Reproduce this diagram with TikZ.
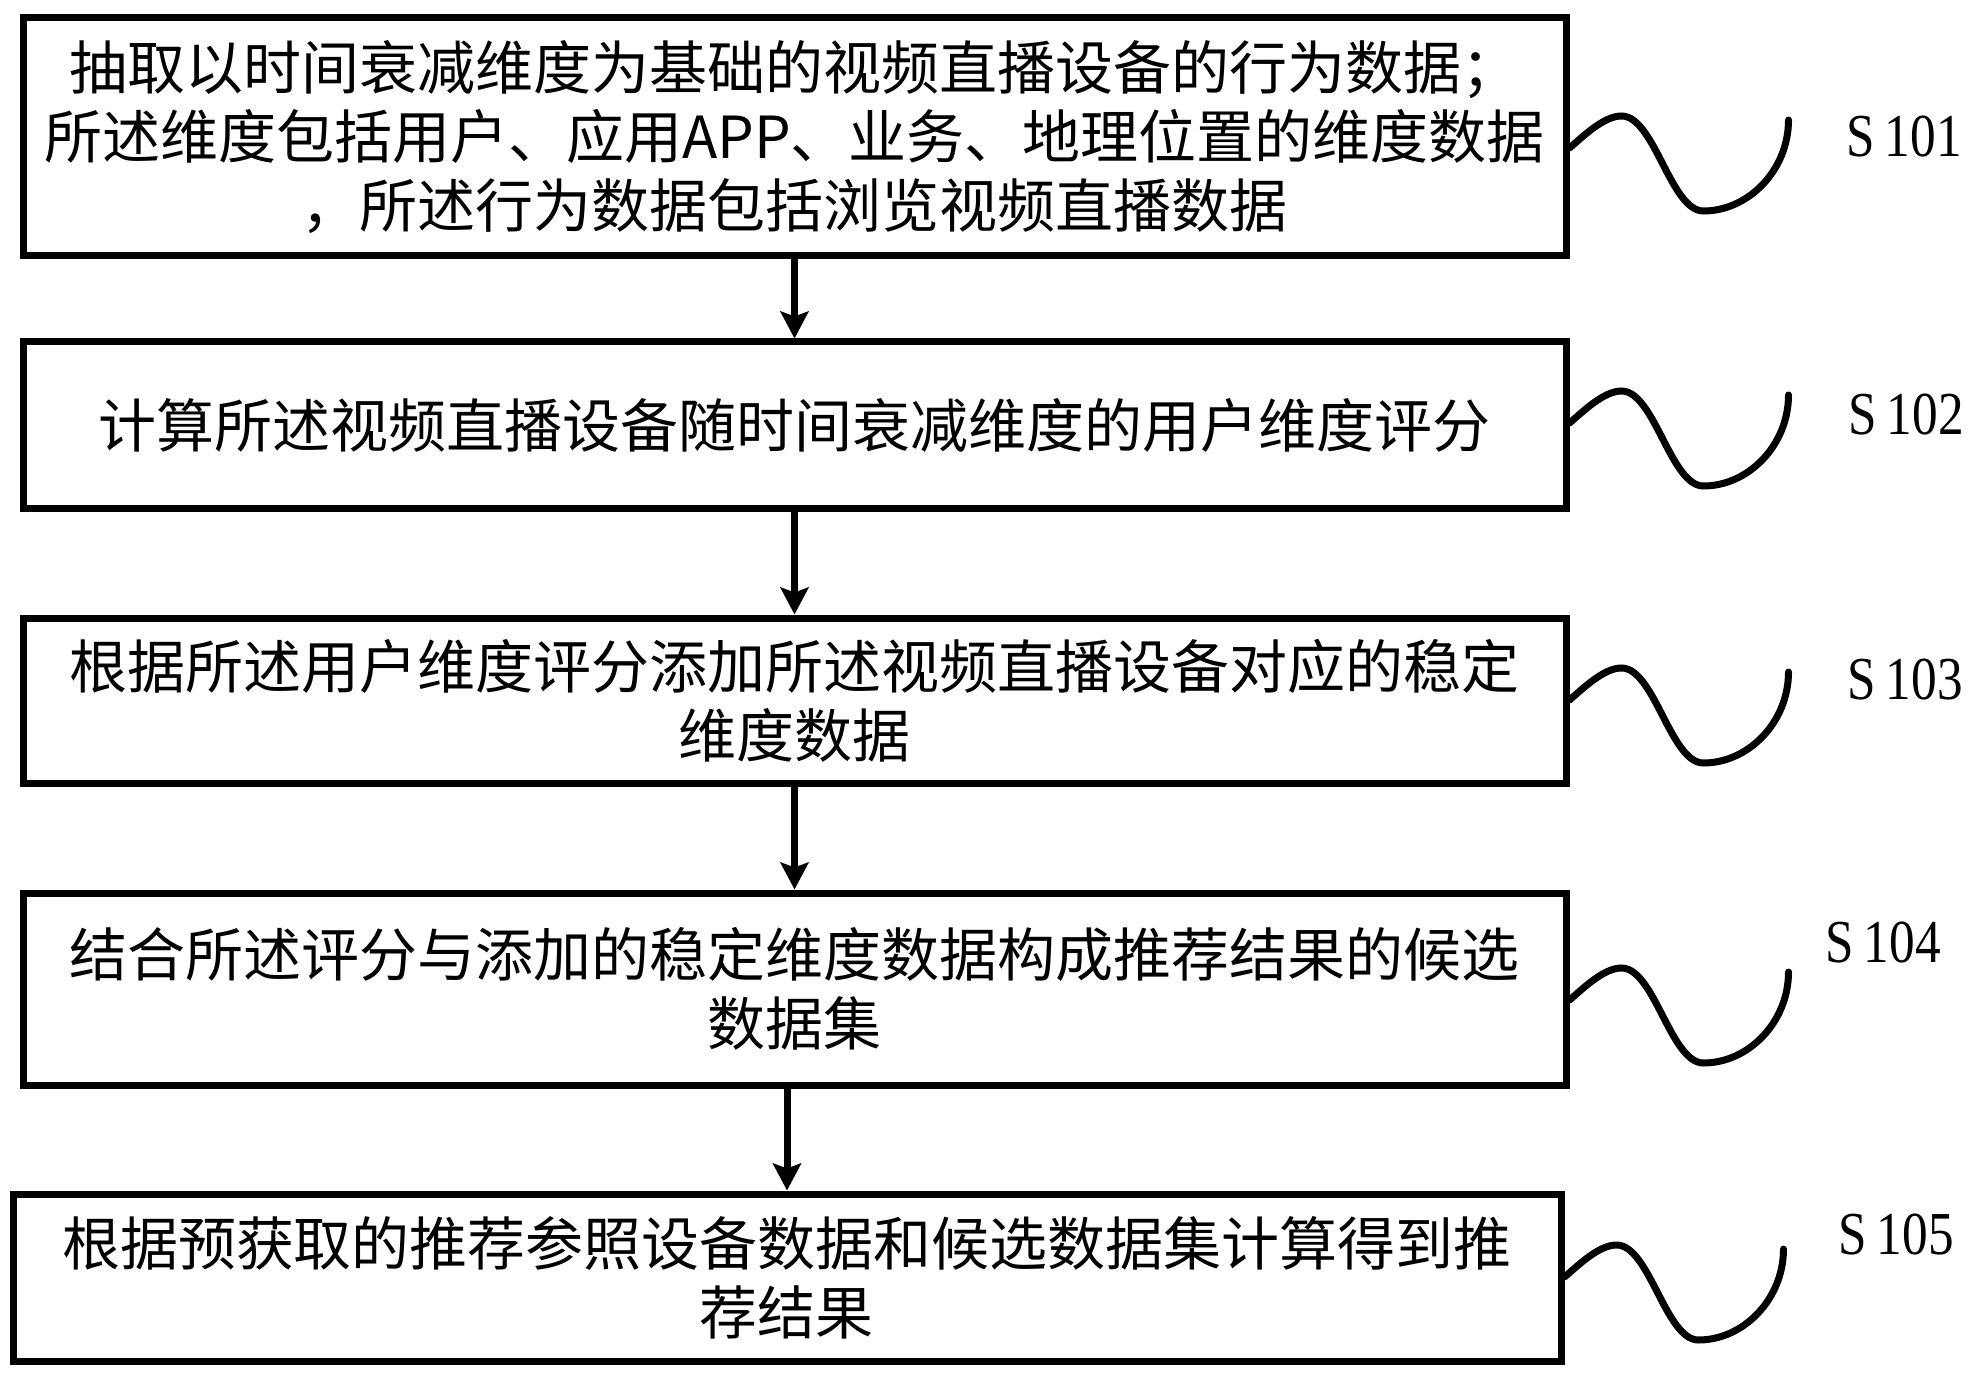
\documentclass[tikz,border=0pt]{standalone}
\usepackage{fontspec}
\setmainfont{Noto Sans CJK SC}
\newfontfamily\labelfont[FakeStretch=0.84]{Liberation Serif}
\usetikzlibrary{arrows.meta}
\begin{document}
\begin{tikzpicture}[x=1pt,y=-1pt,
  stepbox/.style={draw, line width=7pt, align=center, inner sep=0pt,
    minimum width=1543pt, font=\fontsize{58}{69}\selectfont},
  flow/.style={line width=7pt, -{Stealth[length=27pt,width=28pt,inset=5pt]}},
  squig/.style={line width=7pt, line cap=round},
  steplabel/.style={font=\labelfont\fontsize{61}{61}\selectfont, inner sep=0pt},
  wave/.pic={\draw[squig] (0,0) .. controls +(13,-11) and +(-18,0) .. ++(52,-32)
      .. controls +(33,0) and +(-33,0) .. ++(82,95)
      .. controls +(45,0) and +(0,50) .. ++(85,-91);}]
\useasboundingbox (0,0) rectangle (1982,1380);

\node[stepbox, minimum height=238pt] (b1) at (794.5,137)
  {抽取以时间衰减维度为基础的视频直播设备的行为数据；\\所述维度包括用户、应用APP、业务、地理位置的维度数据\\，所述行为数据包括浏览视频直播数据};
\node[stepbox, minimum height=166pt] (b2) at (794.5,425)
  {计算所述视频直播设备随时间衰减维度的用户维度评分};
\node[stepbox, minimum height=165pt] (b3) at (794.5,700.5)
  {根据所述用户维度评分添加所述视频直播设备对应的稳定\\维度数据};
\node[stepbox, minimum height=192pt] (b4) at (794.5,989)
  {结合所述评分与添加的稳定维度数据构成推荐结果的候选\\数据集};
\node[stepbox, minimum width=1548pt, minimum height=167pt] (b5) at (787,1277.5)
  {根据预获取的推荐参照设备数据和候选数据集计算得到推\\荐结果};

\draw[flow] (b1.south) -- (b2.north);
\draw[flow] (b2.south) -- (b3.north);
\draw[flow] (b3.south) -- (b4.north);
\draw[flow] (b4.south -| b5.north) -- (b5.north);

\pic at (b1.east |- 0,148) {wave};
\pic at (b2.east |- 0,423) {wave};
\pic at (b3.east |- 0,700) {wave};
\pic at (b4.east |- 0,1000) {wave};
\pic at (b5.east |- 0,1277) {wave};

\node[steplabel] (l1) at (1904,137) {S\,101};
\node[steplabel] (l2) at (1906,415) {S\,102};
\node[steplabel] (l3) at (1905,680) {S\,103};
\node[steplabel] (l4) at (1883,943) {S\,104};
\node[steplabel] (l5) at (1896,1235) {S\,105};
\end{tikzpicture}
\end{document}
